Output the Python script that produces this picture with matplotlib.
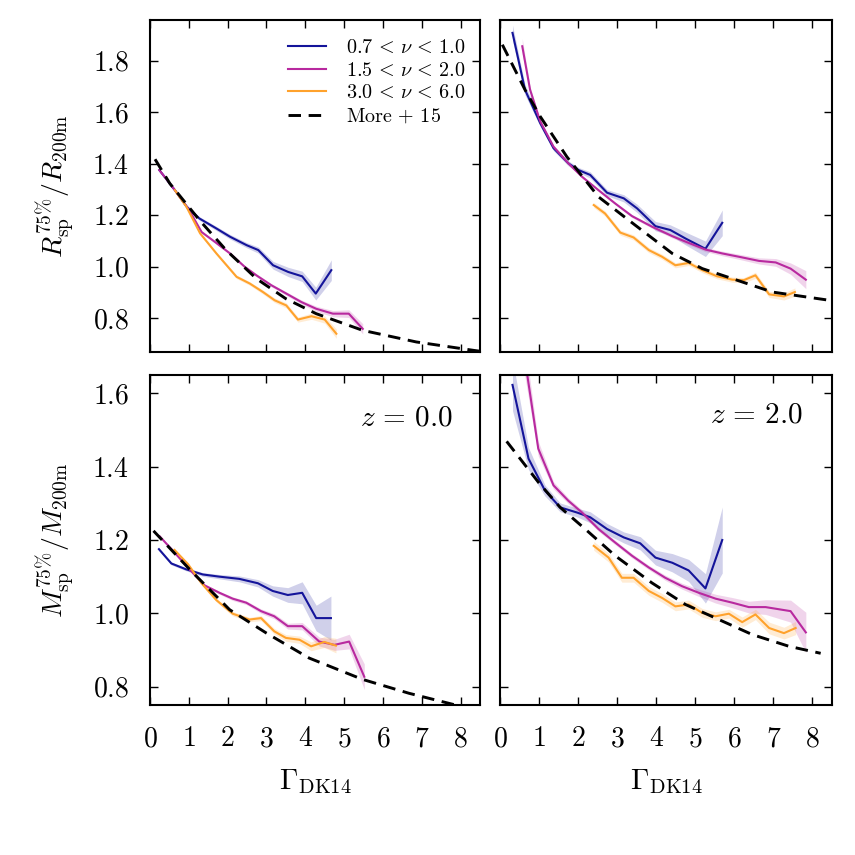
import matplotlib
matplotlib.use("Agg")
import matplotlib.pyplot as plt
from matplotlib.ticker import FormatStrFormatter
import numpy as np

plt.rcParams['mathtext.fontset'] = 'cm'
plt.rcParams['font.family'] = 'serif'
plt.rcParams['font.serif'] = ['cmr10', 'DejaVu Serif']
plt.rcParams['axes.formatter.use_mathtext'] = True
plt.rcParams['lines.scale_dashes'] = False

# ---------------- data ----------------
labels = [r'$0.7\,<\,\nu\,<\,1.0$', r'$1.5\,<\,\nu\,<\,2.0$', r'$3.0\,<\,\nu\,<\,6.0$']
model_label = r'$\mathrm{More}\,+\,15$'
colors = ['#14149a', '#b8299f', '#ffa22c']

# top-left: R_sp / R200m, z = 0
rz0_blue_x = [0.24, 0.64, 0.95, 1.27, 1.71, 2.06, 2.49, 2.79, 3.17, 3.56, 3.92, 4.27, 4.67]
rz0_blue_y = [1.375, 1.297, 1.232, 1.187, 1.148, 1.116, 1.083, 1.064, 1.005, 0.979, 0.962, 0.895, 0.986]
rz0_blue_e = [0.005, 0.005, 0.006, 0.007, 0.008, 0.009, 0.010, 0.012, 0.015, 0.018, 0.020, 0.025, 0.040]
rz0_mag_x = [0.24, 0.64, 1.01, 1.33, 1.67, 2.06, 2.44, 2.74, 3.13, 3.51, 3.90, 4.28, 4.71, 5.12, 5.48]
rz0_mag_y = [1.375, 1.297, 1.219, 1.134, 1.096, 1.051, 0.999, 0.966, 0.927, 0.895, 0.862, 0.836, 0.817, 0.817, 0.758]
rz0_mag_e = [0.004, 0.004, 0.004, 0.004, 0.005, 0.005, 0.005, 0.006, 0.006, 0.007, 0.008, 0.010, 0.012, 0.015, 0.020]
rz0_ora_x = [0.64, 0.94, 1.29, 1.71, 2.23, 2.57, 2.91, 3.21, 3.51, 3.81, 4.16, 4.50, 4.80]
rz0_ora_y = [1.297, 1.232, 1.129, 1.051, 0.960, 0.934, 0.901, 0.869, 0.849, 0.794, 0.807, 0.794, 0.739]
rz0_ora_e = [0.005, 0.005, 0.006, 0.006, 0.007, 0.007, 0.008, 0.009, 0.010, 0.010, 0.012, 0.014, 0.018]
rz0_mod_x = [0.13, 0.51, 1.27, 1.96, 2.74, 3.50, 4.28, 5.48, 6.86, 8.35, 8.5]
rz0_mod_y = [1.417, 1.323, 1.181, 1.064, 0.953, 0.875, 0.817, 0.752, 0.707, 0.674, 0.671]

# top-right: R_sp / R200m, z = 2
rz2_blue_x = [0.32, 0.64, 1.03, 1.37, 1.75, 2.01, 2.31, 2.74, 3.17, 3.51, 3.98, 4.36, 4.75, 5.26, 5.69]
rz2_blue_y = [1.908, 1.687, 1.557, 1.460, 1.401, 1.375, 1.356, 1.287, 1.265, 1.226, 1.157, 1.142, 1.109, 1.069, 1.170]
rz2_blue_e = [0.030, 0.020, 0.012, 0.010, 0.010, 0.010, 0.012, 0.012, 0.014, 0.016, 0.018, 0.020, 0.025, 0.030, 0.050]
rz2_mag_x = [0.57, 0.77, 1.03, 1.37, 1.75, 2.10, 2.52, 2.95, 3.38, 3.89, 4.41, 4.83, 5.26, 5.69, 6.12, 6.63, 7.06, 7.44, 7.83]
rz2_mag_y = [1.856, 1.687, 1.564, 1.466, 1.401, 1.349, 1.297, 1.245, 1.196, 1.155, 1.118, 1.092, 1.066, 1.051, 1.038, 1.022, 1.016, 0.992, 0.949]
rz2_mag_e = [0.030, 0.012, 0.006, 0.005, 0.005, 0.005, 0.005, 0.005, 0.006, 0.006, 0.007, 0.008, 0.008, 0.009, 0.010, 0.012, 0.015, 0.022, 0.035]
rz2_ora_x = [2.40, 2.69, 3.08, 3.42, 3.81, 4.15, 4.49, 4.83, 5.18, 5.56, 5.95, 6.24, 6.54, 6.89, 7.27, 7.55]
rz2_ora_y = [1.239, 1.206, 1.132, 1.113, 1.064, 1.038, 1.005, 1.014, 0.986, 0.962, 0.949, 0.947, 0.966, 0.892, 0.884, 0.901]
rz2_ora_e = [0.010, 0.010, 0.010, 0.010, 0.010, 0.010, 0.010, 0.010, 0.010, 0.010, 0.010, 0.010, 0.012, 0.012, 0.014, 0.016]
rz2_mod_x = [0.06, 0.64, 1.03, 1.71, 2.52, 3.46, 4.41, 5.18, 5.95, 6.97, 8.43, 8.5]
rz2_mod_y = [1.862, 1.687, 1.583, 1.427, 1.271, 1.161, 1.051, 0.992, 0.953, 0.901, 0.869, 0.868]

# bottom-left: M_sp / M200m, z = 0
mz0_blue_x = [0.23, 0.55, 0.93, 1.36, 1.79, 2.30, 2.78, 3.16, 3.55, 3.92, 4.28, 4.66]
mz0_blue_y = [1.175, 1.136, 1.120, 1.106, 1.100, 1.094, 1.082, 1.061, 1.050, 1.056, 0.987, 0.987]
mz0_blue_e = [0.004, 0.004, 0.004, 0.005, 0.006, 0.008, 0.010, 0.014, 0.020, 0.030, 0.035, 0.060]
mz0_mag_x = [0.25, 0.63, 1.06, 1.41, 1.79, 2.13, 2.48, 2.86, 3.20, 3.55, 3.92, 4.36, 4.75, 5.13, 5.52]
mz0_mag_y = [1.210, 1.166, 1.115, 1.076, 1.056, 1.040, 1.029, 1.006, 0.992, 0.965, 0.965, 0.923, 0.914, 0.923, 0.827]
mz0_mag_e = [0.003, 0.003, 0.003, 0.004, 0.004, 0.005, 0.005, 0.006, 0.007, 0.008, 0.010, 0.012, 0.015, 0.020, 0.035]
mz0_ora_x = [0.63, 0.98, 1.32, 1.71, 2.13, 2.56, 2.86, 3.20, 3.50, 3.85, 4.15, 4.49, 4.79]
mz0_ora_y = [1.173, 1.134, 1.083, 1.036, 0.999, 0.983, 0.987, 0.951, 0.933, 0.928, 0.910, 0.922, 0.912]
mz0_ora_e = [0.004, 0.004, 0.005, 0.005, 0.006, 0.006, 0.007, 0.008, 0.009, 0.010, 0.012, 0.015, 0.020]
mz0_mod_x = [0.09, 1.02, 2.05, 3.00, 4.10, 5.47, 6.67, 7.87]
mz0_mod_y = [1.225, 1.120, 1.010, 0.946, 0.878, 0.820, 0.782, 0.750]

# bottom-right: M_sp / M200m, z = 2
mz2_blue_x = [0.32, 0.73, 1.15, 1.54, 1.97, 2.31, 2.74, 3.17, 3.59, 3.98, 4.41, 4.83, 5.26, 5.69]
mz2_blue_y = [1.623, 1.422, 1.335, 1.289, 1.275, 1.262, 1.230, 1.207, 1.191, 1.152, 1.138, 1.117, 1.068, 1.200]
mz2_blue_e = [0.070, 0.030, 0.015, 0.012, 0.012, 0.015, 0.015, 0.015, 0.018, 0.020, 0.025, 0.030, 0.040, 0.090]
mz2_mag_x = [0.60, 0.98, 1.37, 1.75, 2.10, 2.52, 2.95, 3.38, 3.81, 4.23, 4.66, 5.09, 5.52, 5.95, 6.37, 6.80, 7.44, 7.83]
mz2_mag_y = [1.720, 1.449, 1.349, 1.307, 1.275, 1.230, 1.193, 1.157, 1.125, 1.097, 1.074, 1.056, 1.040, 1.029, 1.017, 1.017, 1.006, 0.948]
mz2_mag_e = [0.050, 0.020, 0.010, 0.008, 0.007, 0.006, 0.006, 0.006, 0.006, 0.007, 0.008, 0.010, 0.012, 0.014, 0.016, 0.020, 0.030, 0.055]
mz2_ora_x = [2.40, 2.78, 3.12, 3.42, 3.81, 4.15, 4.49, 4.83, 5.18, 5.52, 5.86, 6.20, 6.54, 6.89, 7.27, 7.57]
mz2_ora_y = [1.184, 1.152, 1.097, 1.097, 1.061, 1.042, 1.019, 1.024, 1.001, 0.992, 0.999, 0.976, 0.997, 0.960, 0.946, 0.960]
mz2_ora_e = [0.012, 0.012, 0.012, 0.012, 0.012, 0.012, 0.012, 0.012, 0.012, 0.012, 0.012, 0.014, 0.014, 0.016, 0.016, 0.018]
mz2_mod_x = [0.17, 0.98, 1.54, 2.18, 2.95, 3.89, 4.75, 5.52, 6.46, 7.40, 8.21]
mz2_mod_y = [1.469, 1.358, 1.289, 1.230, 1.157, 1.083, 1.024, 0.987, 0.942, 0.910, 0.891]

xticks = [0, 1, 2, 3, 4, 5, 6, 7, 8]
rticks = [0.8, 1.0, 1.2, 1.4, 1.6, 1.8]
mticks = [0.8, 1.0, 1.2, 1.4, 1.6]
zlabels = [r'$z\,=\,0.0$', r'$z\,=\,2.0$']
ylabel_r = r'$R_{\rm sp}^{75\%}/R_{\rm 200m}$'
ylabel_m = r'$M_{\rm sp}^{75\%}/M_{\rm 200m}$'
xlabel = r'$\Gamma_{\rm DK14}$'

# ---------------- figure ----------------
W = 855.0
fig = plt.figure(figsize=(8.55, 8.55), dpi=100)

def frac(x0, y0, x1, y1):
    return [x0 / W, 1 - y1 / W, (x1 - x0) / W, (y1 - y0) / W]

ax_tl = fig.add_axes(frac(150, 20, 480, 352))
ax_tr = fig.add_axes(frac(500, 20, 832, 352))
ax_bl = fig.add_axes(frac(150, 375, 480, 705))
ax_br = fig.add_axes(frac(500, 375, 832, 705))

panels = [
    (ax_tl, [(rz0_blue_x, rz0_blue_y, rz0_blue_e), (rz0_mag_x, rz0_mag_y, rz0_mag_e), (rz0_ora_x, rz0_ora_y, rz0_ora_e)], (rz0_mod_x, rz0_mod_y)),
    (ax_tr, [(rz2_blue_x, rz2_blue_y, rz2_blue_e), (rz2_mag_x, rz2_mag_y, rz2_mag_e), (rz2_ora_x, rz2_ora_y, rz2_ora_e)], (rz2_mod_x, rz2_mod_y)),
    (ax_bl, [(mz0_blue_x, mz0_blue_y, mz0_blue_e), (mz0_mag_x, mz0_mag_y, mz0_mag_e), (mz0_ora_x, mz0_ora_y, mz0_ora_e)], (mz0_mod_x, mz0_mod_y)),
    (ax_br, [(mz2_blue_x, mz2_blue_y, mz2_blue_e), (mz2_mag_x, mz2_mag_y, mz2_mag_e), (mz2_ora_x, mz2_ora_y, mz2_ora_e)], (mz2_mod_x, mz2_mod_y)),
]

for ax, series, model in panels:
    for (sx, sy, se), c, lab in zip(series, colors, labels):
        sx = np.array(sx); sy = np.array(sy); se = np.array(se)
        ax.fill_between(sx, sy - se, sy + se, color=c, alpha=0.2, lw=0)
        ax.plot(sx, sy, color=c, lw=1.5, label=lab)
    ax.plot(model[0], model[1], color='k', lw=2.1, dashes=(9, 5.5), label=model_label)
    ax.set_xlim(0, 8.5)
    ax.set_xticks(xticks)
    ax.tick_params(direction='in', top=True, right=True, length=6, width=1.0,
                   labelsize=20, pad=15)
    ax.xaxis.set_major_formatter(FormatStrFormatter('$%d$'))
    ax.yaxis.set_major_formatter(FormatStrFormatter('$%.1f$'))
    for s in ax.spines.values():
        s.set_linewidth(1.5)

for ax in (ax_tl, ax_tr):
    ax.set_ylim(0.668, 1.958)
    ax.set_yticks(rticks)
    ax.tick_params(labelbottom=False)
for ax in (ax_bl, ax_br):
    ax.set_ylim(0.75, 1.65)
    ax.set_yticks(mticks)
    ax.set_xlabel(xlabel, fontsize=21, labelpad=11)
for ax in (ax_tr, ax_br):
    ax.tick_params(labelleft=False)

ax_tl.set_ylabel(ylabel_r, fontsize=20, labelpad=12)
ax_bl.set_ylabel(ylabel_m, fontsize=20, labelpad=12)

ax_bl.text(0.918, 0.87, zlabels[0], transform=ax_bl.transAxes, ha='right', va='center', fontsize=21)
ax_br.text(0.913, 0.879, zlabels[1], transform=ax_br.transAxes, ha='right', va='center', fontsize=21)

ax_tl.legend(loc='upper right', frameon=False, fontsize=14.5, handlelength=1.9,
             handletextpad=1.0, labelspacing=0.23, borderaxespad=0.2,
             bbox_to_anchor=(0.995, 0.98))

fig.savefig('out.png', dpi=100)
